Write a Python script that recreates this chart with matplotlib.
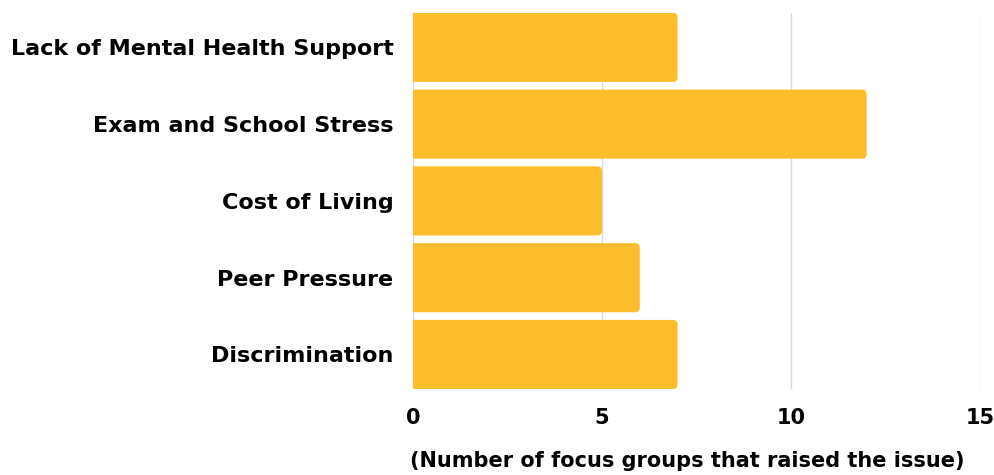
import numpy as np
import matplotlib
matplotlib.use('Agg')
from matplotlib import pyplot as plt
from matplotlib.patches import PathPatch
from matplotlib.path import Path

categories = ['Lack of Mental Health Support', 'Exam and School Stress',
              'Cost of Living', 'Peer Pressure', 'Discrimination']
counts = [7, 12, 5, 6, 7]
xticks = [0, 5, 10, 15]

bar_color = '#FBBE2A'
grid_color = '#D9D9D9'

plt.rcParams['font.family'] = ['DejaVu Sans']

fig = plt.figure(figsize=(9.95, 4.75), dpi=100)
ax = fig.add_axes([0.415, 0.181, 0.57, 0.792])

ypos = np.arange(len(categories))[::-1]
bars = ax.barh(ypos, counts, height=0.9, color=bar_color)

ax.set_xlim(0, 15)
ax.set_ylim(-0.45, len(categories) - 0.55)


def right_rounded(x, y, w, h, rx, ry, n=8):
    # outline of a bar with only its right corners rounded
    t = np.linspace(0, np.pi / 2, n)
    pts = [(x, y)]
    cx, cy = x + w - rx, y + ry
    pts += [(cx + rx * np.sin(a), cy - ry * np.cos(a)) for a in t]
    cy = y + h - ry
    pts += [(cx + rx * np.cos(a), cy + ry * np.sin(a)) for a in t]
    pts += [(x, y + h), (x, y)]
    codes = [Path.MOVETO] + [Path.LINETO] * (len(pts) - 2) + [Path.CLOSEPOLY]
    return Path(pts, codes)


for b in bars:
    b.set_visible(False)
    p = right_rounded(b.get_x(), b.get_y(), b.get_width(), b.get_height(), 0.11, 0.055)
    ax.add_patch(PathPatch(p, fc=bar_color, ec='none', zorder=3))

ax.set_xticks(xticks)
ax.set_xticklabels([str(t) for t in xticks], fontsize=15, fontweight='bold')
ax.set_yticks(ypos)
ax.set_yticklabels(categories, fontsize=16, fontweight='bold')
ax.tick_params(axis='both', length=0)
ax.tick_params(axis='x', pad=14)
ax.tick_params(axis='y', pad=14)

ax.xaxis.grid(True, color=grid_color, linewidth=1)
ax.set_axisbelow(True)
for s in ax.spines.values():
    s.set_visible(False)
ax.axvline(0, color=grid_color, linewidth=1, zorder=1)

ax.set_xlabel('(Number of focus groups that raised the issue)', fontsize=15,
              fontweight='bold', labelpad=16)
ax.xaxis.label.set_x(0.483)

fig.savefig('out.png', dpi=100)
